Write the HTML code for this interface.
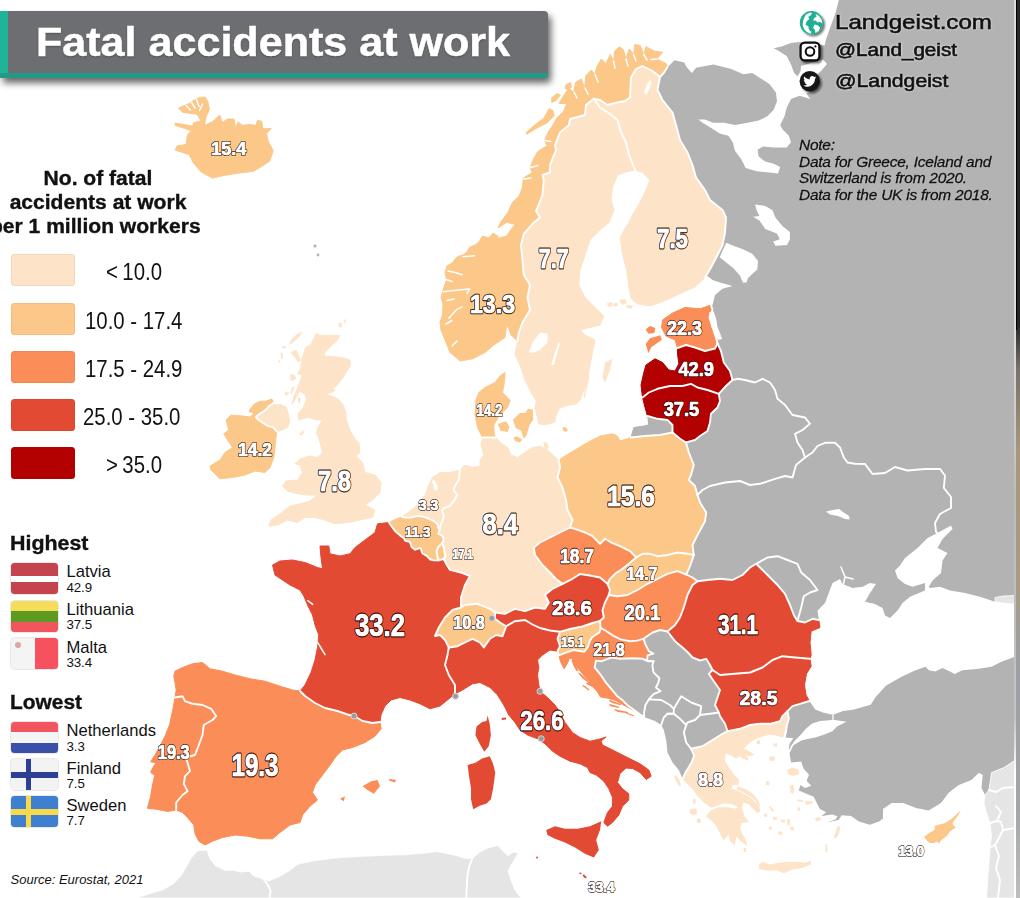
<!DOCTYPE html>
<html><head><meta charset="utf-8"><title>Fatal accidents at work</title>
<style>
html,body{margin:0;padding:0;background:#fff;}
body{width:1020px;height:898px;position:relative;overflow:hidden;font-family:"Liberation Sans",sans-serif;color:#111;}
.map{position:absolute;left:0;top:0;}
.abs{position:absolute;white-space:nowrap;}
.title{position:absolute;left:0;top:10.5px;width:548px;height:67.5px;background:#6d6e71;border-radius:0 4px 4px 0;box-shadow:3px 5px 7px rgba(0,0,0,.6);overflow:hidden;}
.title:before{content:"";position:absolute;left:0;top:0;width:7.5px;height:100%;background:#1fb398;}
.title:after{content:"";position:absolute;left:0;bottom:0;width:100%;height:5.5px;background:#239a86;}
.title span{position:absolute;left:36px;top:7.2px;text-shadow:0 1px 2px rgba(0,0,0,.35);-webkit-text-stroke:0.5px #fff;transform:scaleX(1.077);font-weight:bold;font-size:40px;line-height:48px;color:#fff;white-space:nowrap;transform-origin:left center;}
.sw{position:absolute;left:11.2px;width:64px;height:32px;border-radius:3.5px;box-shadow:inset 0 0 0 1px rgba(120,40,0,.07);}
.lt{position:absolute;font-size:23px;line-height:24px;white-space:nowrap;transform:scaleX(.886);transform-origin:left center;}
.flag{position:absolute;left:10.5px;width:47.5px;height:31px;margin-top:0.8px;border-radius:3.5px;overflow:hidden;box-shadow:0 0 0 0.5px rgba(0,0,0,.18);}
.flag i{position:absolute;display:block;}
.cn{position:absolute;left:66.5px;font-size:16.6px;line-height:18px;white-space:nowrap;}
.cv{position:absolute;left:66.5px;font-size:13.3px;line-height:14px;white-space:nowrap;letter-spacing:-0.1px;}
.strip{position:absolute;left:1015.6px;top:0;width:4.4px;height:898px;background:linear-gradient(#26282a 0,#232526 36%,#7a7067 41%,#a8977e 50%,#ab9a84 65%,#9aa0a6 75%,#a2a6a8 90%,#bdbdbd 100%);}
.stripl{position:absolute;left:1013.6px;top:0;width:2px;height:898px;background:linear-gradient(#dcdcdc 0,#dcdcdc 38%,#bcbcbc 55%,#c4c4c4 80%,#fff 86%,#fff 100%);}.stripk{position:absolute;left:1015.6px;top:0;width:1.6px;height:330px;background:#000;}
</style></head><body>
<svg class="map" width="1020" height="898" viewBox="0 0 1020 898">
<g fill="#b3b3b3" stroke="none">
<path d="M667.5 67 L668 66.7 L674.5 60.2 L684.2 62.4 L686.4 66.7 L691.8 73.1 L696.1 67.7 L713.3 64.5 L730.6 68.8 L743.5 74.2 L752.2 73.1 L760.8 78.5 L769.4 83.9 L775.9 92.6 L777 101.2 L773.7 109.8 L767.3 116.3 L758.6 120.6 L747.8 122.8 L734.9 124.9 L724.1 122.8 L713.3 122.8 L704.7 119.5 L698.2 119.5 L702.6 122.8 L711.2 128.1 L719.8 133.5 L728.4 135.7 L732.8 142.2 L734.9 150.8 L741.4 159.4 L745.7 168 L756.5 171.3 L769.4 172.4 L778 173.4 L780.2 167 L773.7 163.7 L765.1 161.6 L758.6 156.2 L757.6 149.7 L763 146.5 L773.7 147.6 L786.7 147.6 L791 142.2 L788.8 135.7 L782.4 129.2 L780.2 124.9 L784.5 116.3 L786.7 107.7 L791 99 L799.6 95.8 L810.4 99 L806.1 93.6 L809 92.5 L818 73.7 L821.5 70.6 L827 64 L823 59.6 L801 66 L800.7 71 L797.5 76.4 L794.2 73.1 L791 64.5 L786.7 55.9 L778 50.5 L773.7 48.3 L782.4 46.2 L791 42.9 L799.6 41.9 L824.7 45.5 L825.5 41 L830 28 L835.7 12.5 L838.8 0 L1015.5 0 L1015.5 604 L995 601.8 L980 596.8 L965 593 L950 590.5 L940 586.8 L930 588 L928.8 586.8 L932.5 580.5 L941 573 L942.5 560.5 L947.5 553 L937.5 548 L942.5 539 L952.5 529 L951 525.5 L937.5 533 L927.5 538 L917.5 548 L905 558 L900 565.5 L895 570.5 L897.5 578 L905 584 L912.5 586.8 L925 583 L925 590.5 L910 596.8 L902.5 603 L897.5 610.5 L890 618 L885 615.5 L882.5 608 L875 604 L865 601.8 L870 593 L876 584 L870 583 L862.5 586.8 L852.5 588 L842.5 584 L840 579 L832.5 583 L828.8 593 L825 603 L817.5 610.5 L818.8 620 L812.5 618.8 L805 622.5 L797.5 621 L793.8 615 L790 605 L785 593.8 L777.5 585 L770 577.5 L762.5 570 L756.2 563.8 L750 567.5 L742.5 575 L732.5 580 L720 578.8 L707.5 580 L697.5 581.2 L692.5 577.5 L686.2 574.5 L690 566.2 L693.8 555 L692.5 545 L697.5 535 L705 521.2 L706.2 512.5 L700 502.5 L697.5 495 L695 486 L688.8 480 L691 475 L693.8 465 L688.8 452.5 L686 442.5 L695 440 L700 436 L707.5 431 L710 422.5 L711 413.8 L717.5 407.5 L720 401 L718.8 393.8 L726 386 L732.5 380 L730 371 L723.8 362.5 L721 351 L717.5 343.5 L716 337.5 L712.5 327.5 L710 317.5 L712.5 310 L711 305 L712.5 305 L715 295 L722.5 288.8 L732.5 286 L720 282.5 L712.5 280 L707.5 276 L705 277.5 L711 267.5 L717.5 255 L722.5 245 L725 232.5 L726 217.5 L722.5 210 L710 200 L705 190 L696 177.5 L692.5 165 L687.5 152.5 L680 140 L676 125 L672.5 112.5 L662.5 100 L657.5 90 L660 77 L664 72.5 L667.5 67Z"/>
<path d="M643.5 638.8 L652.5 632.5 L660 630 L667.5 631.5 L675 641.2 L682.5 647.5 L687.5 652 L692.5 657.5 L700 660.5 L706.2 658.8 L710 665 L712.5 670 L708.8 673.8 L713.8 681.2 L720 690 L717.5 697.5 L715 705 L718.8 712.5 L720 716.2 L725 723.8 L727.5 731.2 L722.5 733.8 L712.5 740 L702.5 746.2 L691.2 748.8 L694.1 755.7 L691.4 762.8 L686 771.7 L682.5 778.8 L678.8 770 L672.5 762.5 L667.5 752.5 L666.2 740 L663.8 730 L661.2 725 L655 721 L648 718.5 L644.1 717 L639.4 714.1 L632.4 708.8 L627.6 705.3 L622.9 700.6 L617 695.9 L611.2 688.8 L605.3 681.8 L600.6 674.7 L594.7 667.6 L595.9 660.6 L601.8 661.2 L611.2 657.6 L620.6 658.8 L632.4 658.2 L642.9 658.8 L647.6 661.2 L653.5 661.2 L647 660.6 L647.6 655.3 L653.5 653.5 L648.8 651.2 L645.3 644.1Z"/>
<path d="M809.5 701 L815.2 709.4 L822.9 712.5 L829.2 714 L833 714.8 L843 711 L853 709.8 L870.7 704.7 L875.7 697 L885.8 685.8 L901 677 L915 670.5 L925.4 666.7 L929 670.3 L935.2 671.6 L942.5 667.9 L949.9 671.6 L954.8 674 L962.2 670.3 L976.9 669.1 L991.6 666.7 L1001.4 661.8 L1015.5 656.5 L1015.5 760 L1004 767.6 L991.5 772.7 L989 790 L985 795 L981.5 787.8 L982.7 775 L979 772.7 L971.4 780 L958.8 785 L948.7 792.8 L941 803 L928.6 810.4 L916 808 L903.4 803 L891.6 802.9 L883 809.1 L883 818.5 L879.1 821.6 L869.8 824.7 L858.9 821.6 L851.1 816.1 L841.7 815.3 L838.6 820 L826.9 822.4 L835.5 819.5 L837.5 816.3 L832.4 814.6 L821.4 816.1 L826.1 812.2 L819.9 809.1 L816.8 802.9 L813.7 796.7 L805.9 793.5 L798.8 790.4 L800.4 785 L805.1 788.1 L811.3 785.7 L806.6 781 L809 774.8 L803.5 768.6 L801.2 761.6 L791 762.4 L789.5 753 L793.4 745.2 L788.7 749.9 L789.5 743.7 L793.4 738.2 L785.6 737.4 L787.1 731.2 L787.9 723.4 L785.6 715.6 L787.5 711.2 L792.5 706.2 L800 703.8Z"/>
<circle cx="315" cy="246" r="1.6"/><circle cx="318" cy="255" r="1.4"/>
</g>
<g fill="#e5e5e5" stroke="#fff" stroke-width="0.8">
<path d="M991.5 772.7 L1004 767.6 L1015.5 760 L1015.5 898 L986.5 898 L987.8 878 L989 863 L990 848 L991.5 835.6 L990 823 L986.5 813 L984 803 L985 795 L989 790Z"/>
<path d="M995 597.5 L1003 596 L1015.5 595.5 L1015.5 604.5 L995 601.8Z"/>
<path d="M136.5 898 L148.8 894.1 L163 889.7 L173.5 883.5 L180.6 876.5 L185.9 867.6 L191.2 857.9 L197.4 850.9 L207 850 L208 853.5 L210.6 859.7 L215.9 865.9 L224.7 870.3 L233.5 870.3 L240.6 872 L249.4 871.2 L252.9 875.6 L263.5 879.1 L268.8 880.9 L279.4 876.5 L290 870.3 L298 864 L314 860.8 L335 858 L355 856.7 L380 855.5 L406 854.7 L425 853 L436.7 851.6 L447 853.5 L457 855.7 L465 858.5 L472.4 858.3 L480 852 L487.8 848 L498 845.5 L503 851 L508 855.7 L513.5 852 L518.4 853 L513 862 L508 871 L511 880 L515 890 L521 898Z"/>
</g>
<g fill="none" stroke="#fff" stroke-width="1.9" stroke-linejoin="round" stroke-linecap="round">
<path d="M732.5 380 L737.5 378.8 L745 380 L755 382.5 L762.5 378.8 L770 382.5 L775 390 L777.5 398.8 L785 405 L792.5 415 L805 417.5 L810 423.8 L802.5 430 L795 433.8 L797.5 442.5 L802.5 450 L805 457.5"/>
<path d="M697.5 495 L702.5 490 L710 486 L725 482.5 L740 481 L750 485 L760 483.8 L775 478.8 L785 476 L792.5 477.5 L796 465 L805 457.5"/>
<path d="M805 457.5 L812.5 452.5 L817.5 446 L825 442.8 L835 442.8 L840 447.5 L843.8 457.5 L847.5 462.5 L855 463.8 L865 464 L872.5 474 L885 473 L895 467 L907.5 470.5 L925 469 L940 469 L945 475.5 L943.8 488 L951 497 L951 508 L940 514 L935 523 L936 532 L937.5 533"/>
<path d="M756.2 563.8 L767.5 557.5 L777.5 556.2 L787.5 560 L797.5 563.8 L801.2 572.5 L810 580 L817.5 590 L810 592.5 L803.8 596.2 L801.2 607.5 L797.5 621"/>
<path d="M653.5 661.2 L652.4 665.3 L653.5 672.4 L659.4 678.2 L658.2 683 L655.9 687.6 L660.6 691.2 L653.5 694.1 L648.8 699.4"/>
<path d="M648.8 699.4 L645.3 705.3 L644.1 712.4 L644.1 717"/>
<path d="M648.8 699.4 L661.2 700 L670 705 L673.8 708.8 L673.8 713.8 L667.5 713.8"/>
<path d="M667.5 713.8 L663.8 717.5 L661.2 725"/>
<path d="M667.5 713.8 L673.8 713.8 L680 718.8 L686.2 725"/>
<path d="M673.8 708.8 L681.2 696.2 L691.2 702.5 L701.2 706.2 L700 715"/>
<path d="M700 715 L695 720 L687.5 722.5 L686.2 725"/>
<path d="M700 715 L710 713.8 L718.8 712.5"/>
<path d="M686.2 725 L683.8 732.5 L686.2 742.5 L691.2 748.8"/>
<path d="M989 790 L996 792 L1003 788 L1015.5 787"/>
<path d="M990 823 L997 821 L1001 812 L996 806"/>
<path d="M989 848 L995 845 L999 838 L1003 830 L1001 822 L997 821"/>
<path d="M995 845 L999 856 L996 868 L1000 880 L998 898"/>
<path d="M1003 830 L1015.5 828"/>
<path d="M263.5 879.1 L267 883.5 L270.6 890.6 L269.7 898"/>
<path d="M472.4 858.3 L469 867 L467.3 876 L466.3 898"/>
</g>
<g stroke-width="1" stroke-linejoin="round">
<path fill="#b3b3b3" stroke="#b3b3b3" d="M647.5 416 L657.5 418.8 L667.5 420 L672.5 425 L672.5 432.5 L660 435 L645 436 L631 437.5 L633.8 427.5 L643.8 426Z"/>
<path fill="#fbc88a" stroke="#fbc88a" d="M667.5 67 L666 63.4 L657 59 L662.6 52.3 L654.8 51.2 L646 46.7 L643.7 54.5 L640.3 45.6 L634.8 44.5 L633.6 54.5 L629.2 48.9 L625.9 59 L623.6 50 L619.2 46.7 L614.7 51.2 L613.6 61.2 L610.3 54.5 L605.8 63.4 L601.4 59 L596.9 66.7 L594.7 74.5 L591.3 70.1 L585.8 75.7 L584.6 87.9 L581.3 79 L575.7 82.3 L573.5 92.4 L569 87.9 L563.5 95.7 L559 103.5 L566.8 103.5 L563.5 111.3 L556.8 118 L552.4 125.8 L547.9 132.4 L544.6 140.2 L546.8 145.8 L537.9 151.4 L533.4 159.2 L530.1 168 L532.3 172.5 L523.4 178 L522.3 188 L519 196 L512.3 202.6 L507.8 212.6 L501 221.5 L498 228 L507 222 L513.3 224.6 L505.7 235 L499 236.9 L493 233 L489 238 L482.5 236 L479 242 L475 245 L470 247 L466 253 L462.5 255 L457 257 L452 263 L447 266 L445 272.5 L446.5 280 L443.8 287.5 L441 297.5 L443 304 L442.5 315 L440 322 L441 330 L446 342.5 L450 352.5 L460 361 L472.5 358.8 L485 352.5 L493.8 345 L505 337.5 L506.6 325 L509 329 L511 335 L517.5 341 L518.8 332.5 L522.5 322.5 L530 310 L527.5 297.5 L530 285 L523.8 275 L522.5 260 L521 245 L523.8 233.8 L532.5 223.8 L540 217.5 L536 211 L542.5 195 L543.8 180 L542.5 175 L550 172.5 L550 165 L556 150 L555 145 L560 132.5 L569 125 L570 119 L585 115 L586 105 L593.8 98.8 L600 100 L607.5 105 L611 104 L617.5 102.5 L625 101 L630 97.5 L631 77.5 L636 69 L642.5 66 L652.5 71 L660 77 L664 72.5Z"/>
<path fill="#fde4c8" stroke="#fde4c8" d="M593.8 98.8 L586 105 L585 115 L570 119 L569 125 L560 132.5 L555 145 L556 150 L550 165 L550 172.5 L542.5 175 L543.8 180 L542.5 195 L536 211 L540 217.5 L532.5 223.8 L523.8 233.8 L521 245 L522.5 260 L523.8 275 L530 285 L527.5 297.5 L530 310 L522.5 322.5 L518.8 332.5 L517.5 341 L515 355 L520 365 L525 380 L532.5 395 L536.3 400.6 L535 407.5 L537.6 418.4 L539 424 L546 424.8 L554.8 421.9 L556 415.7 L559.6 408 L567.8 405.4 L576 404 L580 400 L583.8 390 L587.5 380 L590 365 L592.5 352.5 L595 340 L585 335 L580 330 L590 327.5 L600 325 L603.8 316 L595 307.5 L585 297.5 L578.8 285 L580 270 L585 255 L590 240 L600 230 L609 222.5 L614 210 L611 200 L612.5 187.5 L617.5 175 L626 172 L635 170 L634 167.5 L629 155 L626 142.5 L621 132.5 L617.5 120 L610 114 L600 107.5Z"/>
<path fill="#fde4c8" stroke="#fde4c8" d="M593.8 98.8 L600 100 L607.5 105 L611 104 L617.5 102.5 L625 101 L630 97.5 L631 77.5 L636 69 L642.5 66 L652.5 71 L660 77 L657.5 90 L662.5 100 L672.5 112.5 L676 125 L680 140 L687.5 152.5 L692.5 165 L696 177.5 L705 190 L710 200 L722.5 210 L726 217.5 L725 232.5 L722.5 245 L717.5 255 L711 267.5 L705 277.5 L695 287 L682.5 292.5 L670 298.5 L657.5 303.5 L651.4 305.5 L647.5 305.5 L638 304 L631.3 299 L629.1 289.3 L626.9 271.5 L622.4 253.6 L620.2 238 L624.6 229.1 L627.5 225 L632.5 215 L640 202.5 L646 190 L650 180 L642.5 172.5 L635 170 L634 167.5 L629 155 L626 142.5 L621 132.5 L617.5 120 L610 114 L600 107.5Z"/>
<path fill="#fb8d58" stroke="#fb8d58" d="M711 305 L700 308.8 L685 307.5 L672.5 313 L662.5 320 L661.5 327.5 L666 336 L675 340 L677.5 348 L686 345 L695 347.5 L705 351 L715 348.5 L717.5 343.5 L716 337.5 L712.5 327.5 L710 317.5 L712.5 310Z"/>
<path fill="#b30000" stroke="#b30000" d="M677.5 348 L686 345 L695 347.5 L705 351 L715 348.5 L717.5 343.5 L721 351 L723.8 362.5 L730 371 L732.5 380 L726 386 L718.8 393.8 L707.5 390 L697.5 387.5 L691 383.8 L682.5 386 L670 386 L657.5 388.8 L648.8 392.5 L642.5 397.5 L641 385 L643.8 372.5 L646 365 L655 358.8 L662.5 362.5 L668.8 370 L675 371 L678.8 363.8 L677.5 353.8Z"/>
<path fill="#b30000" stroke="#b30000" d="M642.5 397.5 L648.8 392.5 L657.5 388.8 L670 386 L682.5 386 L691 383.8 L697.5 387.5 L707.5 390 L718.8 393.8 L720 401 L717.5 407.5 L711 413.8 L710 422.5 L707.5 431 L700 436 L695 440 L686 442.5 L680 438.8 L672.5 432.5 L672.5 425 L667.5 420 L657.5 418.8 L647.5 416 L645 407.5Z"/>
<path fill="#fbc88a" stroke="#fbc88a" d="M558.8 460 L565 456 L575 450 L587.5 442.5 L600 436 L612.5 433.8 L617.5 436 L620 441 L631 437.5 L645 436 L660 435 L672.5 432.5 L680 438.8 L686 442.5 L688.8 452.5 L693.8 465 L691 475 L688.8 480 L695 486 L697.5 495 L700 502.5 L706.2 512.5 L705 521.2 L697.5 535 L692.5 545 L693.8 555 L687.5 553.8 L677.5 552.5 L667.5 555 L657.5 556.2 L650 553.8 L642.5 553.8 L636.2 557.5 L630 551.2 L620 546.2 L611.2 542.5 L605 538.8 L600 543.8 L592.5 536.2 L585 532.5 L575 528.8 L570 527.5 L572.5 520 L567.5 510 L566 500 L562.5 487.5 L557.5 477.5 L560 467.5Z"/>
<path fill="#fde4c8" stroke="#fde4c8" d="M558.8 460 L560 467.5 L557.5 477.5 L562.5 487.5 L566 500 L567.5 510 L572.5 520 L570 527.5 L560 532.5 L550 537.5 L540 542.5 L533.8 547.5 L535 555 L542.5 565 L550 572.5 L556 579 L562.5 583.8 L552.5 588.8 L545 595 L548.8 602.5 L545 608.8 L535 607.5 L525 611.2 L515 608.8 L505 613.8 L495 612.5 L490 608.8 L477.5 603.8 L465 605 L461 607.5 L461 597.5 L465 585 L470 576 L462.5 573 L455 571 L449.9 569.8 L446.3 564 L443.7 559 L445.4 556 L444.5 551.5 L443.7 547 L441.9 543.5 L443.7 539.9 L442.8 536.3 L438.3 533.7 L439.5 530 L440.1 528.3 L441 523.9 L442.8 520.3 L443.7 515.8 L441.9 510.5 L444.5 507.8 L449.9 506 L451.7 503.4 L455.2 498.9 L457 494.5 L453.5 490 L455 486 L458.8 480 L460 470 L465 465 L472.5 467.5 L480 466 L480 460 L483.8 455 L481 445 L482.5 437.5 L496 437.5 L500 442.5 L507.5 447.5 L511 455 L517.5 457.5 L525 452.5 L532.5 447.5 L540 446 L547.5 450 L553.8 456Z"/>
<path fill="#fbc88a" stroke="#fbc88a" d="M482.5 437.5 L477.5 427.5 L475 415 L476 400 L478.8 392.5 L485 387.5 L495 382.5 L500 376 L505 372.5 L504.7 380 L502.6 392.4 L510.2 400.6 L507.5 407.5 L499.2 415.7 L493.7 425.3 L494.4 434.9 L496 437.5Z"/>
<path fill="#fde4c8" stroke="#fde4c8" d="M460 470 L458.8 480 L455 486 L453.5 490 L457 494.5 L455.2 498.9 L451.7 503.4 L449.9 506 L444.5 507.8 L441.9 510.5 L443.7 515.8 L442.8 520.3 L441 523.9 L440.1 528.3 L439.5 530 L438.3 527.4 L437.4 523.9 L433.9 521.2 L428.5 518.5 L423.2 516.7 L417.8 515.8 L410.7 517.6 L405.3 517.6 L401.8 516.7 L408 512.5 L417.5 505 L425 495 L428.8 485 L432.5 477.5 L440 472.5 L450 472.5Z"/>
<path fill="#fbc88a" stroke="#fbc88a" d="M401.8 516.7 L405.3 517.6 L410.7 517.6 L417.8 515.8 L423.2 516.7 L428.5 518.5 L433.9 521.2 L437.4 523.9 L438.3 527.4 L439.5 530 L438.3 533.7 L442.8 536.3 L443.7 539.9 L441.9 543.5 L438.3 547 L436.5 551.5 L437.4 556 L438.3 560.4 L433.9 560.4 L430.3 559.5 L426.7 555.9 L422.3 553.3 L420.5 547.9 L415.1 549.7 L411.6 547 L409.8 541.7 L405.3 540.8 L403.6 538.1 L400 535.4 L395 531 L388.8 522.5 L395 519.5Z"/>
<path fill="#fbc88a" stroke="#fbc88a" d="M441.9 543.5 L443.7 547 L444.5 551.5 L445.4 556 L443.7 559 L438.3 560.4 L437.4 556 L436.5 551.5 L438.3 547Z"/>
<path fill="#e24a33" stroke="#e24a33" d="M388.8 522.5 L395 531 L400 535.4 L403.6 538.1 L405.3 540.8 L409.8 541.7 L411.6 547 L415.1 549.7 L420.5 547.9 L422.3 553.3 L426.7 555.9 L430.3 559.5 L433.9 560.4 L438.3 560.4 L443.7 559 L446.3 564 L449.9 569.8 L455 571 L462.5 573 L470 576 L465 585 L461 597.5 L461 607.5 L452.5 610 L445 617.5 L438.8 627.5 L435 636 L440 635 L445 640 L448.8 647.5 L447.5 655 L445 665 L448.8 675 L455 685 L455 693.8 L447.5 700 L440 706 L430 708.8 L420 703.8 L410 700 L400 697.5 L391 700 L385 706 L381 715 L380 722 L372.5 723 L362.5 721 L355 716.5 L347.5 714.5 L337.5 711 L325 708 L315 703 L305 696 L300 691 L305 685 L311 672.5 L315 660 L317.5 647.5 L318.8 635 L315 625 L312.5 615 L307.5 605 L303.8 596 L300 590 L290 585 L282.5 580 L275 575 L272.5 565 L280 561 L292.5 560 L305 562.5 L317.5 567.5 L322.5 568.8 L321 557.5 L320 546 L328.8 546 L330 553.8 L340 556 L350 553.8 L355 547.5 L365 540 L375 532.5 L377.5 523.8Z"/>
<path fill="#fbc88a" stroke="#fbc88a" d="M461 607.5 L465 605 L477.5 603.8 L490 608.8 L495 612.5 L495 618.8 L500 622.5 L506.2 626.2 L502.5 636.2 L496.2 635 L490 638.8 L483.8 647.5 L480 642.5 L472.5 638.8 L465 642.5 L457.5 646.2 L448.8 647.5 L445 640 L440 635 L435 636 L438.8 627.5 L445 617.5 L452.5 610Z"/>
<path fill="#e24a33" stroke="#e24a33" d="M495 612.5 L505 613.8 L515 608.8 L525 611.2 L535 607.5 L545 608.8 L548.8 602.5 L545 595 L552.5 588.8 L562.5 583.8 L572.5 578.8 L580 574 L590 575.5 L600 577.5 L607.5 583.8 L610 590 L608.8 595 L605 602.5 L602.5 610 L603.8 617.5 L600 621 L592.5 623 L582.5 626.5 L570 629 L560 631.8 L550 630.5 L540 628 L532.5 624.5 L525 620 L515 621.2 L506.2 626.2 L500 622.5 L495 618.8Z"/>
<path fill="#fb8d58" stroke="#fb8d58" d="M570 527.5 L560 532.5 L550 537.5 L540 542.5 L533.8 547.5 L535 555 L542.5 565 L550 572.5 L556 579 L562.5 583.8 L572.5 578.8 L580 574 L590 575.5 L600 577.5 L607.5 583.8 L610 578.8 L615 573.8 L622.5 568.8 L628.8 563.8 L636.2 557.5 L630 551.2 L620 546.2 L611.2 542.5 L605 538.8 L600 543.8 L592.5 536.2 L585 532.5 L575 528.8Z"/>
<path fill="#fbc88a" stroke="#fbc88a" d="M607.5 583.8 L610 578.8 L615 573.8 L622.5 568.8 L628.8 563.8 L636.2 557.5 L642.5 553.8 L650 553.8 L657.5 556.2 L667.5 555 L677.5 552.5 L687.5 553.8 L693.8 555 L690 566.2 L686.2 574.5 L677.5 571.2 L667.5 573.8 L657.5 578.8 L647.5 583.8 L637.5 590 L627.5 595 L617.5 596.2 L608.8 595 L610 590Z"/>
<path fill="#fb8d58" stroke="#fb8d58" d="M608.8 595 L617.5 596.2 L627.5 595 L637.5 590 L647.5 583.8 L657.5 578.8 L667.5 573.8 L677.5 571.2 L686.2 574.5 L692.5 577.5 L697.5 581.2 L692.5 585 L687.5 595 L683.8 607.5 L680 617.5 L675 625 L667.5 631.5 L660 630 L652.5 632.5 L643.5 638.8 L637 640.6 L630 641.2 L620.6 639.4 L613.5 635.9 L606.5 631.2 L600.6 628 L600 621 L603.8 617.5 L602.5 610 L605 602.5Z"/>
<path fill="#fbc88a" stroke="#fbc88a" d="M560 631.8 L570 629 L582.5 626.5 L592.5 623 L600 621 L600.6 628 L599.4 632.4 L592.4 637 L590 640.6 L587.6 647.6 L584.1 651.8 L573.5 650 L565.3 652.9 L558.8 655.3 L557.5 651.2 L560 646.2 L557.5 638.8Z"/>
<path fill="#fb8d58" stroke="#fb8d58" d="M558.8 655.3 L565.3 652.9 L573.5 650 L584.1 651.8 L587.6 647.6 L590 640.6 L592.4 637 L599.4 632.4 L600.6 628 L606.5 631.2 L613.5 635.9 L620.6 639.4 L630 641.2 L637 640.6 L643.5 638.8 L645.3 644.1 L648.8 651.2 L653.5 653.5 L647.6 655.3 L647 660.6 L653.5 661.2 L647.6 661.2 L642.9 658.8 L632.4 658.2 L620.6 658.8 L611.2 657.6 L601.8 661.2 L595.9 660.6 L594.7 667.6 L600.6 674.7 L605.3 681.8 L611.2 688.8 L617 695.9 L622.9 700.6 L627.6 705.3 L632.4 708.8 L639.4 714.1 L644.1 717 L637 712.4 L630 708.2 L622.9 704.7 L615.9 700.6 L607.6 698.2 L600.6 697 L597 691.2 L592.4 686.5 L586.5 683.5 L590 681.8 L585.3 677 L579.4 670 L573.5 664.1 L572.4 658.8 L569.4 658.2 L567.6 662.9 L564.1 668.8 L560.6 661.8Z"/>
<path fill="#e24a33" stroke="#e24a33" d="M455 693.8 L455 685 L448.8 675 L445 665 L447.5 655 L448.8 647.5 L457.5 646.2 L465 642.5 L472.5 638.8 L480 642.5 L483.8 647.5 L490 638.8 L496.2 635 L502.5 636.2 L506.2 626.2 L515 621.2 L525 620 L532.5 624.5 L540 628 L550 630.5 L560 631.8 L557.5 638.8 L560 646.2 L557.5 651.2 L550 650 L542.5 655 L537.5 660 L538.8 667.5 L537.5 675 L538.8 685 L540 691.2 L547.5 697.5 L555 705 L560 712.5 L565 722.5 L572.5 732.5 L580 737.5 L590 741.2 L600 739 L606.2 737 L601 741 L602.5 745 L615 751.2 L627.5 757.5 L640 763.8 L648.8 770 L651.2 776.2 L646.2 779.5 L640 772.5 L632.5 768.5 L626 768 L620 773.5 L617.5 782.5 L622.5 788.8 L628.8 793.8 L628.8 800 L622.5 806.2 L618.8 815 L612.5 822.5 L607.5 826.2 L603.8 822.5 L607.5 812.5 L612.5 806.2 L612.5 797.5 L608.8 788.8 L603.8 781.2 L596.2 775 L590 772.5 L587.5 767.5 L580 763.8 L570 761.2 L560 756.2 L552.5 751.2 L545 743.8 L537.5 738.8 L527.5 735 L520 730 L515 722.5 L508.8 715 L503.8 705 L497.5 695 L490 687.5 L480 682.5 L472.5 683.8 L462.5 690Z"/>
<path fill="#e24a33" stroke="#e24a33" d="M697.5 581.2 L707.5 580 L720 578.8 L732.5 580 L742.5 575 L750 567.5 L756.2 563.8 L762.5 570 L770 577.5 L777.5 585 L785 593.8 L790 605 L793.8 615 L797.5 621 L805 622.5 L812.5 618.8 L818.8 620 L820 627.5 L811.2 631.2 L810 642.5 L811.2 655 L810 658.8 L795 657.5 L782.5 656.2 L772.5 660 L762.5 667.5 L750 672.5 L735 673.8 L720 675 L712.5 670 L710 665 L706.2 658.8 L700 660.5 L692.5 657.5 L687.5 652 L682.5 647.5 L675 641.2 L667.5 631.5 L675 625 L680 617.5 L683.8 607.5 L687.5 595 L692.5 585Z"/>
<path fill="#e24a33" stroke="#e24a33" d="M712.5 670 L720 675 L735 673.8 L750 672.5 L762.5 667.5 L772.5 660 L782.5 656.2 L795 657.5 L810 658.8 L811.2 666.2 L806.5 673.8 L804.5 685 L806 695 L809.5 701 L800 703.8 L792.5 706.2 L787.5 711.2 L782.5 716.2 L780 721.2 L770 723.8 L760 723.8 L750 725 L740 728.8 L727.5 731.2 L725 723.8 L720 716.2 L718.8 712.5 L715 705 L717.5 697.5 L720 690 L713.8 681.2 L708.8 673.8Z"/>
<path fill="#fde4c8" stroke="#fde4c8" d="M727.5 731.2 L740 728.8 L750 725 L760 723.8 L770 723.8 L780 721.2 L782.5 716.2 L787.5 711.2 L788.8 718.8 L786.2 727.5 L785 735 L782.3 736.9 L777 735.2 L769.8 734.3 L762.7 736 L757.3 737.8 L752 740.5 L746.6 745 L743.1 748.5 L748.4 751.2 L753.8 754.8 L748.4 755.7 L744.9 753.9 L748.4 760.1 L743.1 758.3 L739.5 755.7 L736 758.3 L730.6 754.8 L725.3 753 L724.4 761 L728.8 768.1 L734.2 775.3 L738.6 779.7 L737.7 785 L732.4 784.2 L731 789 L737 791 L743.5 794 L751 798.5 L757 804.5 L760 811 L757.3 812.7 L752 807.3 L748.4 803.8 L743.1 802 L741.3 807.3 L744 816.3 L748.4 821.6 L741.3 822.5 L739.5 828.7 L744.9 839.4 L746.6 844.8 L741.3 841.2 L736 835.9 L734.2 844.8 L730.6 841.2 L728.8 834.1 L723.5 839.4 L719.9 832.3 L716.3 825.2 L711 819.8 L706.5 816.3 L711 810.9 L718.1 807.8 L727 807.8 L736 809.1 L739 807.5 L732.4 803.8 L723.5 802.9 L716.3 805.6 L711 807.3 L703.9 802 L698.5 796.6 L693.2 789.5 L687.8 784.2 L682.5 778.8 L686 771.7 L691.4 762.8 L694.1 755.7 L691.2 748.8 L702.5 746.2 L712.5 740 L722.5 733.8Z"/>
<path fill="#fbc88a" stroke="#fbc88a" d="M178.5 108.1 L184.7 105.4 L189.5 103.3 L194.3 99.9 L200.5 97.2 L205.3 97.2 L208 102 L209.4 109.5 L206 117 L204.6 125.3 L212.2 121.9 L219.7 115 L222.4 122.5 L227.3 119.1 L234.1 119.1 L235.5 128 L238.2 121.9 L242.3 125.3 L249.2 124.6 L256 125.3 L257.4 120.5 L261.6 121.2 L262.9 128.7 L271.2 128.7 L266.4 133.5 L268.4 141.8 L273.2 150.7 L269.8 161 L261.6 166.5 L253.3 171.3 L236.9 173.3 L224.5 175.4 L212.2 178.1 L201.2 172 L192.9 162.3 L189.5 154.8 L175.1 150 L177.2 145.9 L186.1 144.5 L187.4 134.9 L191.6 130.8 L175.1 125.3 L175.1 123.2 L193 126 L193.6 122.5 L201.2 121.2 L197 114.3 L182.6 112.3Z"/>
<path fill="#fde4c8" stroke="#fde4c8" d="M316.6 333.2 L319.5 335.3 L339.8 335.3 L336.9 340.4 L331.1 346.2 L325.3 352 L323.8 356.3 L331.1 356.3 L342.7 357.8 L349.9 360 L350.6 365 L347 370.8 L342.7 378 L336.9 385.3 L332.5 388.9 L335.4 390.4 L331.1 392.5 L325.3 394 L331.1 396.1 L336.9 398.3 L342.7 404.1 L345.6 411.3 L346.3 420 L349.9 430.2 L355.7 440 L358.8 442.5 L360 452.5 L356 456 L362.5 462.5 L365 472.5 L375 475 L381 482.5 L380 492.5 L372.5 500 L365 505 L375 510 L372.5 517.5 L360 520 L347.5 522.5 L335 523.8 L325 520 L315 517.5 L305 517.5 L297.5 522.5 L287.5 520 L277.5 525 L268.8 526 L271 520 L280 513.8 L290 506 L300 503.8 L310 501 L317.5 495 L307.5 495 L297.5 493.8 L287.5 491 L282.5 486 L286 481 L297.5 480 L302.5 472.5 L300 465 L295 463.8 L300 458.8 L310 456 L317.5 457.5 L322.5 452.5 L320 442.5 L319.5 440 L316.6 433.1 L318 427.3 L322.4 420 L316.6 420 L307.9 417.1 L299.2 420 L297.8 414.2 L303.6 407 L306.5 399.8 L305 394 L299.2 391.1 L294.9 399.8 L292 404.1 L293.4 398.3 L296.3 391.1 L299.2 383.8 L302.1 375.2 L297.8 373.7 L300.7 367.9 L302.1 359.2 L303.6 353.4 L305.7 347.6 L310.8 344.7 L313.7 339Z"/>
<path fill="#fde4c8" stroke="#fde4c8" d="M273.9 402.7 L274.6 404.8 L281.1 404.8 L286.2 407 L288.4 414.2 L289.8 421.5 L287.6 427.3 L281.9 430.2 L276.8 431.6 L273.2 427.3 L267.4 425.8 L263 422.9 L258.7 420 L255.8 417.1 L260.1 413.5 L265.9 409.9 L268.8 406.3Z"/>
<path fill="#fbc88a" stroke="#fbc88a" d="M250 409.2 L254.3 404.1 L260.1 401.2 L265.9 401.2 L271.7 399 L273.9 402.7 L268.8 406.3 L265.9 409.9 L260.1 413.5 L255.8 417.1 L258.7 420 L263 422.9 L267.4 425.8 L273.2 427.3 L276.8 431.6 L276 437.5 L275 447.5 L273.8 457.5 L270 467.5 L265 472.5 L255 471 L245 475 L232.5 477.5 L220 478.8 L211 470 L210 466 L220 460 L225 452.5 L232.5 447.5 L227.5 440 L223.8 433.8 L228.8 430 L226 420 L231 415 L242.5 416 L250 417 L254 413.5 L249 411.5Z"/>
<path fill="#fb8d58" stroke="#fb8d58" d="M175 671.2 L182.5 667.5 L192.5 663.8 L202.5 662.5 L210 668.8 L222.5 671.2 L235 675 L250 678.8 L265 681.2 L280 686.2 L292.5 690 L300 691 L305 696 L315 703 L325 708 L337.5 711 L347.5 714.5 L355 716.5 L362.5 721 L372.5 723 L380 722 L381.2 728.8 L375 736.2 L365 742.5 L352.5 747.5 L342.5 750 L336.2 756.2 L330 765 L322.5 775 L315 785 L312.5 792.5 L317.5 800 L310 806.2 L302.5 815 L300 822.5 L290 825 L280 832.5 L272.5 838.8 L260 838.8 L247.5 836.2 L235 835 L222.5 837.5 L212.5 841.2 L205 845 L198.8 841.2 L195 833.8 L193.8 825 L187.5 817.5 L182.5 812.5 L176.2 810 L176.2 802.5 L182.5 795 L187.5 791.2 L183.8 783.8 L185 776.2 L190 771.2 L187.5 762.5 L186.2 757.5 L195 755 L198.8 745 L202.5 735 L203.8 725 L212.5 720 L216.2 716.2 L211.2 708.8 L202.5 705 L192.5 703.8 L185 701.2 L182.5 696.2 L175 697.5 L176.2 690 L175 682.5 L173.8 676.2Z"/>
<path fill="#fb8d58" stroke="#fb8d58" d="M175 697.5 L182.5 696.2 L185 701.2 L192.5 703.8 L202.5 705 L211.2 708.8 L216.2 716.2 L212.5 720 L203.8 725 L202.5 735 L198.8 745 L195 755 L186.2 757.5 L187.5 762.5 L190 771.2 L185 776.2 L183.8 783.8 L187.5 791.2 L182.5 795 L176.2 802.5 L176.2 810 L167.5 811.4 L156.9 809.3 L147.4 808.3 L150.6 796.6 L152.7 783.9 L154.8 775.4 L150.6 772.3 L152.7 768 L155.9 762.8 L150.6 761.7 L154.8 755.3 L160.1 745.8 L165.4 735.2 L169.6 724.7 L172.8 709.8Z"/>
</g>
<g fill="none" stroke="#fff" stroke-width="1.9" stroke-linejoin="round" stroke-linecap="round">
<path d="M593.8 98.8 L586 105 L585 115 L570 119 L569 125 L560 132.5 L555 145 L556 150 L550 165 L550 172.5 L542.5 175 L543.8 180 L542.5 195 L536 211 L540 217.5 L532.5 223.8 L523.8 233.8 L521 245 L522.5 260 L523.8 275 L530 285 L527.5 297.5 L530 310 L522.5 322.5 L518.8 332.5 L517.5 341"/>
<path d="M593.8 98.8 L600 100 L607.5 105 L611 104 L617.5 102.5 L625 101 L630 97.5 L631 77.5 L636 69 L642.5 66 L652.5 71 L660 77"/>
<path d="M660 77 L664 72.5 L667.5 67"/>
<path d="M593.8 98.8 L600 107.5 L610 114 L617.5 120 L621 132.5 L626 142.5 L629 155 L634 167.5 L635 170"/>
<path d="M660 77 L657.5 90 L662.5 100 L672.5 112.5 L676 125 L680 140 L687.5 152.5 L692.5 165 L696 177.5 L705 190 L710 200 L722.5 210 L726 217.5 L725 232.5 L722.5 245 L717.5 255 L711 267.5 L705 277.5"/>
<path d="M677.5 348 L686 345 L695 347.5 L705 351 L715 348.5 L717.5 343.5"/>
<path d="M717.5 343.5 L716 337.5 L712.5 327.5 L710 317.5 L712.5 310 L711 305"/>
<path d="M717.5 343.5 L721 351 L723.8 362.5 L730 371 L732.5 380"/>
<path d="M732.5 380 L726 386 L718.8 393.8"/>
<path d="M718.8 393.8 L707.5 390 L697.5 387.5 L691 383.8 L682.5 386 L670 386 L657.5 388.8 L648.8 392.5 L642.5 397.5"/>
<path d="M718.8 393.8 L720 401 L717.5 407.5 L711 413.8 L710 422.5 L707.5 431 L700 436 L695 440 L686 442.5"/>
<path d="M686 442.5 L680 438.8 L672.5 432.5"/>
<path d="M672.5 432.5 L672.5 425 L667.5 420 L657.5 418.8 L647.5 416"/>
<path d="M672.5 432.5 L660 435 L645 436 L631 437.5"/>
<path d="M686 442.5 L688.8 452.5 L693.8 465 L691 475 L688.8 480 L695 486 L697.5 495"/>
<path d="M697.5 495 L700 502.5 L706.2 512.5 L705 521.2 L697.5 535 L692.5 545 L693.8 555"/>
<path d="M693.8 555 L687.5 553.8 L677.5 552.5 L667.5 555 L657.5 556.2 L650 553.8 L642.5 553.8 L636.2 557.5"/>
<path d="M636.2 557.5 L630 551.2 L620 546.2 L611.2 542.5 L605 538.8 L600 543.8 L592.5 536.2 L585 532.5 L575 528.8 L570 527.5"/>
<path d="M570 527.5 L572.5 520 L567.5 510 L566 500 L562.5 487.5 L557.5 477.5 L560 467.5 L558.8 460"/>
<path d="M570 527.5 L560 532.5 L550 537.5 L540 542.5 L533.8 547.5 L535 555 L542.5 565 L550 572.5 L556 579 L562.5 583.8"/>
<path d="M562.5 583.8 L552.5 588.8 L545 595 L548.8 602.5 L545 608.8 L535 607.5 L525 611.2 L515 608.8 L505 613.8 L495 612.5"/>
<path d="M495 612.5 L490 608.8 L477.5 603.8 L465 605 L461 607.5"/>
<path d="M461 607.5 L461 597.5 L465 585 L470 576 L462.5 573 L455 571 L449.9 569.8 L446.3 564 L443.7 559"/>
<path d="M443.7 559 L445.4 556 L444.5 551.5 L443.7 547 L441.9 543.5"/>
<path d="M441.9 543.5 L443.7 539.9 L442.8 536.3 L438.3 533.7 L439.5 530"/>
<path d="M439.5 530 L440.1 528.3 L441 523.9 L442.8 520.3 L443.7 515.8 L441.9 510.5 L444.5 507.8 L449.9 506 L451.7 503.4 L455.2 498.9 L457 494.5 L453.5 490 L455 486 L458.8 480 L460 470"/>
<path d="M482.5 437.5 L496 437.5"/>
<path d="M439.5 530 L438.3 527.4 L437.4 523.9 L433.9 521.2 L428.5 518.5 L423.2 516.7 L417.8 515.8 L410.7 517.6 L405.3 517.6 L401.8 516.7"/>
<path d="M441.9 543.5 L438.3 547 L436.5 551.5 L437.4 556 L438.3 560.4"/>
<path d="M438.3 560.4 L433.9 560.4 L430.3 559.5 L426.7 555.9 L422.3 553.3 L420.5 547.9 L415.1 549.7 L411.6 547 L409.8 541.7 L405.3 540.8 L403.6 538.1 L400 535.4 L395 531 L388.8 522.5"/>
<path d="M438.3 560.4 L443.7 559"/>
<path d="M461 607.5 L452.5 610 L445 617.5 L438.8 627.5 L435 636 L440 635 L445 640 L448.8 647.5"/>
<path d="M448.8 647.5 L447.5 655 L445 665 L448.8 675 L455 685 L455 693.8"/>
<path d="M380 722 L372.5 723 L362.5 721 L355 716.5 L347.5 714.5 L337.5 711 L325 708 L315 703 L305 696 L300 691"/>
<path d="M495 612.5 L495 618.8 L500 622.5 L506.2 626.2"/>
<path d="M506.2 626.2 L502.5 636.2 L496.2 635 L490 638.8 L483.8 647.5 L480 642.5 L472.5 638.8 L465 642.5 L457.5 646.2 L448.8 647.5"/>
<path d="M562.5 583.8 L572.5 578.8 L580 574 L590 575.5 L600 577.5 L607.5 583.8"/>
<path d="M607.5 583.8 L610 590 L608.8 595"/>
<path d="M608.8 595 L605 602.5 L602.5 610 L603.8 617.5 L600 621"/>
<path d="M600 621 L592.5 623 L582.5 626.5 L570 629 L560 631.8"/>
<path d="M560 631.8 L550 630.5 L540 628 L532.5 624.5 L525 620 L515 621.2 L506.2 626.2"/>
<path d="M607.5 583.8 L610 578.8 L615 573.8 L622.5 568.8 L628.8 563.8 L636.2 557.5"/>
<path d="M693.8 555 L690 566.2 L686.2 574.5"/>
<path d="M686.2 574.5 L677.5 571.2 L667.5 573.8 L657.5 578.8 L647.5 583.8 L637.5 590 L627.5 595 L617.5 596.2 L608.8 595"/>
<path d="M686.2 574.5 L692.5 577.5 L697.5 581.2"/>
<path d="M697.5 581.2 L692.5 585 L687.5 595 L683.8 607.5 L680 617.5 L675 625 L667.5 631.5"/>
<path d="M667.5 631.5 L660 630 L652.5 632.5 L643.5 638.8"/>
<path d="M643.5 638.8 L637 640.6 L630 641.2 L620.6 639.4 L613.5 635.9 L606.5 631.2 L600.6 628"/>
<path d="M600.6 628 L600 621"/>
<path d="M600.6 628 L599.4 632.4 L592.4 637 L590 640.6 L587.6 647.6 L584.1 651.8 L573.5 650 L565.3 652.9 L558.8 655.3"/>
<path d="M558.8 655.3 L557.5 651.2 L560 646.2 L557.5 638.8 L560 631.8"/>
<path d="M643.5 638.8 L645.3 644.1 L648.8 651.2 L653.5 653.5 L647.6 655.3 L647 660.6 L653.5 661.2"/>
<path d="M653.5 661.2 L647.6 661.2 L642.9 658.8 L632.4 658.2 L620.6 658.8 L611.2 657.6 L601.8 661.2 L595.9 660.6 L594.7 667.6 L600.6 674.7 L605.3 681.8 L611.2 688.8 L617 695.9 L622.9 700.6 L627.6 705.3 L632.4 708.8 L639.4 714.1 L644.1 717"/>
<path d="M697.5 581.2 L707.5 580 L720 578.8 L732.5 580 L742.5 575 L750 567.5 L756.2 563.8"/>
<path d="M756.2 563.8 L762.5 570 L770 577.5 L777.5 585 L785 593.8 L790 605 L793.8 615 L797.5 621"/>
<path d="M797.5 621 L805 622.5 L812.5 618.8 L818.8 620"/>
<path d="M810 658.8 L795 657.5 L782.5 656.2 L772.5 660 L762.5 667.5 L750 672.5 L735 673.8 L720 675 L712.5 670"/>
<path d="M712.5 670 L710 665 L706.2 658.8 L700 660.5 L692.5 657.5 L687.5 652 L682.5 647.5 L675 641.2 L667.5 631.5"/>
<path d="M809.5 701 L800 703.8 L792.5 706.2 L787.5 711.2"/>
<path d="M787.5 711.2 L782.5 716.2 L780 721.2 L770 723.8 L760 723.8 L750 725 L740 728.8 L727.5 731.2"/>
<path d="M727.5 731.2 L725 723.8 L720 716.2 L718.8 712.5"/>
<path d="M718.8 712.5 L715 705 L717.5 697.5 L720 690 L713.8 681.2 L708.8 673.8 L712.5 670"/>
<path d="M727.5 731.2 L722.5 733.8 L712.5 740 L702.5 746.2 L691.2 748.8"/>
<path d="M691.2 748.8 L694.1 755.7 L691.4 762.8 L686 771.7 L682.5 778.8"/>
<path d="M787.5 711.2 L788.8 718.8 L786.2 727.5 L785 735"/>
<path d="M273.9 402.7 L268.8 406.3 L265.9 409.9 L260.1 413.5 L255.8 417.1 L258.7 420 L263 422.9 L267.4 425.8 L273.2 427.3 L276.8 431.6"/>
<path d="M176.2 810 L176.2 802.5 L182.5 795 L187.5 791.2 L183.8 783.8 L185 776.2 L190 771.2 L187.5 762.5 L186.2 757.5 L195 755 L198.8 745 L202.5 735 L203.8 725 L212.5 720 L216.2 716.2 L211.2 708.8 L202.5 705 L192.5 703.8 L185 701.2 L182.5 696.2 L175 697.5"/>
</g>
<g stroke="none">
<path fill="#fbc88a" d="M553.5 110.5 L554.6 115.7 L546.8 123.5 L537.9 128 L526.7 134.7 L525.6 132.4 L534.5 124.7 L543.4 118 L549 108Z"/>
<path fill="#fbc88a" d="M566 84 L571 82 L572 87 L567.5 90.5 L564.5 88Z"/>
<path fill="#fbc88a" d="M551 98 L557 93 L561 95 L556 101 L551.5 103Z"/>
<path fill="#fb8d58" d="M571.5 660 L573.5 661 L577 668 L578.5 671 L576.5 671 L573.5 666Z"/>
<path fill="#fb8d58" d="M578 672.5 L580 673 L589 681.5 L588 682.5 L582 678Z"/>
<path fill="#fb8d58" d="M582 685.5 L583.5 685 L589.5 689.5 L588.5 690.5Z"/>
<path fill="#fb8d58" d="M608.5 700.5 L610 700 L621 704 L620.5 705.2 L612 703Z"/>
<path fill="#fb8d58" d="M609 704.5 L610 704 L619.5 707 L619 708 L611 706.5Z"/>
<path fill="#fb8d58" d="M614 710 L615 709.2 L628 712 L627.5 713.2 L618 712Z"/>
<path fill="#fb8d58" d="M626 713.5 L627 712.8 L634 715.2 L633.5 716.2Z"/>
<path fill="#e24a33" d="M546.2 830 L555 826.2 L565 828.8 L577.5 828.8 L590 826.2 L601.2 821.2 L600 830 L596.2 840 L598.8 850 L593.8 857.5 L585 853.8 L575 847.5 L565 842.5 L555 838.8 L547.5 835Z"/>
<path fill="#e24a33" d="M482.1 758.4 L489.8 756.2 L493.1 763.9 L495.3 772.8 L493.1 788.2 L490.9 799.2 L486.5 803.6 L479.8 805.8 L473.2 809.2 L471 799.2 L471 788.2 L468.8 775 L467.7 765 L475.4 762.8Z"/>
<path fill="#e24a33" d="M487.6 715.4 L489.8 724.3 L490.9 735.3 L488.7 746.3 L484.3 751.8 L479.8 744.1 L475.4 735.3 L476.5 726.5 L482.1 722.1 L486.5 720.9Z"/>
<path fill="#e24a33" d="M582.4 875 L584 874.5 L586.7 877 L586 878.6 L584 877.5Z"/>
<path fill="#e24a33" d="M579.2 872.6 L581.4 872.8 L581.6 874.2 L579.6 874Z"/>
<path fill="#e24a33" d="M501.5 718 L506 717.5 L506 719.5 L502 720Z"/>
<path fill="#e24a33" d="M536 856.5 L538 857 L538 858.5 L536.5 858.5Z"/>
<path fill="#fbc88a" d="M497.8 423.9 L506 421.2 L509.5 426.7 L507.5 432 L500.6 430.8Z"/>
<path fill="#fbc88a" d="M513 419.8 L519.8 413 L525.3 413 L528 408.8 L532.8 409.5 L533.2 419.8 L529.4 425.3 L526.7 434.9 L523.9 439 L521.2 430.8 L515.7 428Z"/>
<path fill="#fbc88a" d="M513.6 437.6 L517 436.3 L522.5 439.7 L519.8 442.5 L515 441Z"/>
<path fill="#fbc88a" d="M562.5 427.5 L565.5 427 L568 430 L566 432 L563 430.5Z"/>
<path fill="#fde4c8" d="M587.5 375 L589.5 376 L586.5 390 L584.5 399 L583.5 397 L585.5 386Z"/>
<path fill="#fde4c8" d="M605 362.5 L612.5 358.8 L610 370 L605 382.5 L602.5 377.5Z"/>
<path fill="#fde4c8" d="M607 303 L612 302 L613 306 L608 307Z"/>
<path fill="#fb8d58" d="M645.6 329.4 L650 325.9 L655.3 327.9 L654.4 332.9 L648.5 333.8Z"/>
<path fill="#fb8d58" d="M645.6 344.1 L650 338.2 L660.3 335.3 L661.8 339.7 L655.9 344.1 L651.5 347 L648.5 352.9 L647 348.5Z"/>
<path fill="#fbc88a" d="M924.4 836.5 L926.8 834.7 L929.7 832.4 L933.8 830.6 L935 828.2 L934.4 825.9 L938.5 824.7 L944.4 823.2 L949.1 820.6 L953.2 817.6 L957.4 813.5 L960.9 810.3 L958.5 814.7 L955 819.4 L952.6 822.9 L953.2 825.3 L956.2 827.4 L952.6 829.4 L949.7 831.8 L947.4 835.3 L943.2 838.8 L940.3 841.2 L939.1 843.8 L937.4 841.8 L933.8 842.9 L929.7 842.9 L926.8 840.6 L925 838.2Z"/>
<path fill="#fb8d58" d="M362.5 786.2 L371.2 781.2 L377.5 780 L380 786.2 L373.8 793.8 L367.5 790Z"/>
<path fill="#fb8d58" d="M388.8 778.8 L396.2 780 L395 782.5 L390 781Z"/>
<path fill="#fb8d58" d="M340 798.8 L345 796.2 L343.8 801.2Z"/>
<path fill="#fde4c8" d="M759.1 864.4 L762.7 861.7 L769.8 864.4 L780.5 862.6 L794.8 861.7 L805.5 862.6 L810.8 860.8 L810.8 864.4 L801.9 868 L791.2 869.7 L784.1 873.3 L777 870.6 L766.3 870.6 L759.1 868.8Z"/>
<path fill="#fde4c8" d="M837.5 826 L840.5 827 L838.5 835 L835.5 839 L834 837 L836 831Z"/>
<path fill="#fde4c8" d="M737.7 786.3 L746.6 789.4 L753.8 794.5 L758.7 801.5 L760.5 808 L758.5 806.5 L755.5 801 L750.2 796.5 L743.1 792.3 L736.5 789.5Z"/>
<path fill="#fde4c8" d="M787 770 L792 767.5 L798.5 769.5 L799 774 L793.5 776 L788.5 774.5Z"/>
<path fill="#fde4c8" d="M790 785.5 L793.5 785 L794.5 790 L793 794 L790.5 792.5Z"/>
<path fill="#fde4c8" d="M805 801.5 L812 801 L813 803.5 L806 805Z"/>
<path fill="#fde4c8" d="M769 757 L774.5 756 L775 760.5 L770 761Z"/>
<path fill="#fde4c8" d="M756.5 740.5 L760 740.5 L760.5 744 L757 744.5Z"/>
<path fill="#fde4c8" d="M674 776 L676.5 775.5 L680 781 L681 786 L679 786 L676 781Z"/>
<path fill="#fde4c8" d="M690 809 L696.5 808.5 L697 814 L692.5 815.5 L690 813Z"/>
<path fill="#fde4c8" d="M696.5 819 L700.5 818.5 L701 822.5 L697.5 823Z"/>
<path fill="#fde4c8" d="M693 799 L695.5 799 L695.5 804 L693 803.5Z"/>
<path fill="#fde4c8" d="M815 818 L820 817 L821 820 L816 821.5Z"/>
<path fill="#fde4c8" d="M825 844.5 L827 844.5 L827.5 852 L825.5 852Z"/>
<path fill="#fde4c8" d="M764 813.5 L767.5 814 L767 817 L764 816.5Z"/>
<path fill="#fde4c8" d="M773 816.5 L777 817 L776.5 820 L773 819.5Z"/>
<path fill="#fde4c8" d="M781 819 L785 820 L784.5 823 L781 822Z"/>
<path fill="#fde4c8" d="M769 826.5 L772 827 L772 830 L769 829.5Z"/>
<path fill="#fde4c8" d="M778 831 L782.5 832 L782 835 L778 834Z"/>
<path fill="#fde4c8" d="M790 826.5 L794 827 L794 830.5 L790.5 830Z"/>
<path fill="#fde4c8" d="M797.5 807 L800.5 808 L800 811 L797.5 810.5Z"/>
<path fill="#fde4c8" d="M769.5 757 L771.5 757.5 L771 760 L769.5 759.5Z"/>
<path fill="#fde4c8" d="M290.5 352 L296.3 349.8 L298.5 354.9 L301.4 360.7 L297.8 362.1 L294.9 357.8 L292.7 354.9Z"/>
<path fill="#fde4c8" d="M289.1 344.7 L291.3 339.7 L296.3 334.6 L302.1 331.4 L300.7 335.3 L296.3 339.7 L292 343.3Z"/>
<path fill="#fde4c8" d="M290.5 373.7 L294.9 375.2 L296.3 378.8 L292 381 L289.8 379.5Z"/>
<path fill="#fde4c8" d="M284.7 391.8 L289.1 392.5 L287.6 395.4 L285 394.5Z"/>
<path fill="#fde4c8" d="M338.5 323 L341.5 322.5 L342 327 L339 327.5Z"/>
<path fill="#fde4c8" d="M299.2 433.8 L303.6 430.2 L304.3 432.3 L300.7 436Z"/>
<path fill="#fde4c8" d="M773.5 743.5 L777 743.5 L777 746.5 L773.5 746.5Z"/>
<path fill="#fde4c8" d="M787 819 L790 819.5 L790 825 L787.5 825.5Z"/>
<path fill="#fde4c8" d="M743.5 848 L746 848 L746.5 852 L744 852Z"/>
<path fill="#fde4c8" d="M797 799.5 L803 800 L803 802 L797.5 801.5Z"/>
<path fill="#fde4c8" d="M766 781 L769.5 781.5 L769 785.5 L766 785Z"/>
<path fill="#fde4c8" d="M768.5 806 L771 806.5 L774 811 L772 811.5Z"/>
<path fill="#fde4c8" d="M543.5 442 L547 442.5 L548.6 447 L547 450 L544.5 447.5Z"/>
<path fill="#fde4c8" d="M282 346 L286 346.5 L285.5 348.5 L282 348Z"/>
<path fill="#fde4c8" d="M280.5 353 L282.5 353 L283 358.5 L281 358.5Z"/>
<path fill="#fde4c8" d="M292.5 386.5 L294.5 387.5 L291.5 394 L290 393.5Z"/>
<path fill="#fde4c8" d="M298 397.5 L300.5 398 L300 403 L298 402.5Z"/>
<path fill="#fde4c8" d="M343.5 319.5 L345.5 319.5 L346 322.5 L344 322.5Z"/>
<path fill="#fde4c8" d="M278.5 360.5 L280 360.5 L280 362.5 L278.5 362.5Z"/>
<path fill="#fde4c8" d="M619 300 L625 299 L627 303 L622 305Z"/>
<path fill="#fde4c8" d="M626 305 L633 305.5 L632 308.5 L627 308Z"/>
<path fill="#fde4c8" d="M613 303.5 L617 302.5 L618 306 L614 306.5Z"/>
</g>
<g fill="#fff" stroke="none">
<path d="M790.3 746.8 L795 740.5 L801.2 734.3 L805.9 728.8 L812.1 723.4 L819.9 721 L829.2 720.3 L833 719.8 L846.4 721.8 L837 726.5 L832.4 731.2 L823 735 L815.2 737.4 L807.4 739 L801.2 740.5 L793.4 745.2 L791.5 748.5Z"/>
<path d="M726.2 242.8 L733.4 245.7 L743.6 249.4 L752.2 253.7 L758 260.9 L757.3 269.6 L752.2 274 L747.9 278.3 L746.5 282.6 L742.8 282.6 L739.9 275.4 L733.4 268.2 L726.2 262.4 L719.7 257.3 L722.6 250.8Z"/>
<path d="M755.1 204.5 L765.3 205.9 L772.5 210.3 L775.4 217.5 L782.6 226.2 L789.9 232 L789.9 239.2 L787 245 L775.4 245.7 L773.2 241.4 L779.8 239.2 L776.9 233.4 L765.3 229.1 L759.5 220.4 L753 216.8 L759.5 216 L756.6 210.3Z"/>
<path d="M709.5 312 L713.5 311.5 L716 318 L717.5 327 L720 333 L722 339 L718.5 340 L714.5 335 L711.5 326 L708.5 318Z"/>
<path d="M528.8 352.5 L532.5 342.5 L540 332.5 L547.5 333.8 L547.5 342.5 L540 350 L533.8 352.5Z"/>
<path d="M551.2 365 L555 352 L558.8 342.5 L560 343.5 L557 354 L553.8 365Z"/>
<path d="M644 92 L647 84 L650.5 80 L651.5 83 L649 90 L646 95Z"/>
<path d="M826 511.5 L833 510 L839 509 L843 512 L849 516 L849.5 519.5 L845 519 L838 516 L830 514.5Z"/>
<path d="M644.5 417 L647.5 417.5 L648 424.5 L643 425.8Z"/>
<path d="M431.5 481 L434.5 480 L437.5 486 L437.5 490.5 L434 490 L433.5 485Z"/>
</g>
<g fill="none" stroke="#fff" stroke-width="1.3"><path d="M833 714.8L833 719.8"/><path d="M791 747.5L789.3 752"/></g>
<g fill="none" stroke="#fff" stroke-width="1.5" stroke-linecap="round" stroke-linejoin="round">
<path d="M841 567 L845 577 L853 579"/>
<path d="M845 577 L843 586 L850 588"/>
<path d="M317.6 642.4 L321 648 L325 654.6"/>
<path d="M307.8 600.7 L312.7 604.4"/>
<path d="M186 105.5 L190.5 110"/>
<path d="M191.5 102.5 L195 108"/>
<path d="M196.5 99.5 L199 106.5"/>
<path d="M202.5 104 L199.5 110.5"/>
<path d="M448 271 L455 272.5 L462.2 274.7"/>
<path d="M463 256.8 L474.5 255.8"/>
<path d="M443.2 291.8 L458.4 289.9 L469.7 288.9 L466.9 293.7"/>
<path d="M448.9 318.3 L456.5 309.7 L462.2 306.9"/>
<path d="M446 324 L452 320.5"/>
<path d="M447 300.5 L454 299"/>
<path d="M513.3 224.6 L505.7 235 L499 236.9"/>
<path d="M444.5 279 L452 281.5"/>
<path d="M452 346 L457 341"/>
<path d="M530.5 167.5 L538 165.5"/>
<path d="M524 179 L531 178"/>
<path d="M545 140.5 L551 141.5"/>
<path d="M574 92 L577 98"/>
<path d="M585 88 L588 94"/>
<path d="M595 74.5 L598 82"/>
<path d="M613.6 61 L615 68"/>
<path d="M626 59 L628 66"/>
<path d="M633.6 54.5 L636 61"/>
<path d="M643.7 54.5 L647 60"/>
<path d="M657 59 L651 59.5"/>
</g>
<g fill="#9c9c9c" stroke="#d4d4d4" stroke-width="1">
<circle cx="491.75" cy="618.25" r="3"/>
<circle cx="455.5" cy="696.25" r="3"/>
<circle cx="540" cy="691.25" r="3"/>
<circle cx="541.25" cy="738.75" r="3"/>
<circle cx="354" cy="716" r="3"/>
</g>
<defs><filter id="ls" x="-20%" y="-20%" width="140%" height="150%"><feGaussianBlur in="SourceAlpha" stdDeviation="0.6"/><feOffset dx="0.2" dy="0.4"/><feComponentTransfer><feFuncA type="linear" slope="0.45"/></feComponentTransfer><feMerge><feMergeNode/><feMergeNode in="SourceGraphic"/></feMerge></filter></defs>
<g filter="url(#ls)" font-family="Liberation Sans, sans-serif" font-weight="bold" text-anchor="middle" fill="#fff" stroke="#1a0a04" stroke-opacity="0.72" stroke-linejoin="round" style="paint-order:stroke">
<text x="228.7" y="155.3" font-size="19" stroke-width="2.12" textLength="35" lengthAdjust="spacingAndGlyphs">15.4</text>
<text x="553.75" y="268.2" font-size="27" stroke-width="2.8" textLength="30" lengthAdjust="spacingAndGlyphs">7.7</text>
<text x="672.5" y="247.7" font-size="27" stroke-width="2.8" textLength="31" lengthAdjust="spacingAndGlyphs">7.5</text>
<text x="492.5" y="313.3" font-size="26" stroke-width="2.71" textLength="45" lengthAdjust="spacingAndGlyphs">13.3</text>
<text x="684.5" y="335" font-size="19.5" stroke-width="2.16" textLength="35" lengthAdjust="spacingAndGlyphs">22.3</text>
<text x="696.2" y="376" font-size="19.5" stroke-width="2.16" textLength="35.5" lengthAdjust="spacingAndGlyphs">42.9</text>
<text x="681.4" y="415.5" font-size="19.5" stroke-width="2.16" textLength="35.5" lengthAdjust="spacingAndGlyphs">37.5</text>
<text x="489.5" y="415.7" font-size="16" stroke-width="2" textLength="26" lengthAdjust="spacingAndGlyphs">14.2</text>
<text x="255" y="455.8" font-size="19" stroke-width="2.12" textLength="34" lengthAdjust="spacingAndGlyphs">14.2</text>
<text x="334.5" y="490.7" font-size="30" stroke-width="2.9" textLength="33" lengthAdjust="spacingAndGlyphs">7.8</text>
<text x="428.5" y="510.4" font-size="14.5" stroke-width="2" textLength="19.5" lengthAdjust="spacingAndGlyphs">3.3</text>
<text x="417.8" y="536.5" font-size="15.5" stroke-width="2" textLength="25.5" lengthAdjust="spacingAndGlyphs">11.3</text>
<text x="462.8" y="558.8" font-size="15" stroke-width="2" textLength="20.5" lengthAdjust="spacingAndGlyphs">17.1</text>
<text x="500.3" y="533.7" font-size="30" stroke-width="2.9" textLength="35.5" lengthAdjust="spacingAndGlyphs">8.4</text>
<text x="631" y="506.4" font-size="30" stroke-width="2.9" textLength="48" lengthAdjust="spacingAndGlyphs">15.6</text>
<text x="577" y="562.5" font-size="21" stroke-width="2.29" textLength="34" lengthAdjust="spacingAndGlyphs">18.7</text>
<text x="642" y="579.6" font-size="18.5" stroke-width="2.07" textLength="31" lengthAdjust="spacingAndGlyphs">14.7</text>
<text x="572" y="615" font-size="21" stroke-width="2.29" textLength="40" lengthAdjust="spacingAndGlyphs">28.6</text>
<text x="642.5" y="620.4" font-size="22" stroke-width="2.37" textLength="36" lengthAdjust="spacingAndGlyphs">20.1</text>
<text x="469" y="628.8" font-size="17.5" stroke-width="2" textLength="31.5" lengthAdjust="spacingAndGlyphs">10.8</text>
<text x="572.8" y="646.7" font-size="15" stroke-width="2" textLength="23.5" lengthAdjust="spacingAndGlyphs">15.1</text>
<text x="609" y="655.8" font-size="19" stroke-width="2.12" textLength="31.5" lengthAdjust="spacingAndGlyphs">21.8</text>
<text x="380" y="636.1" font-size="31" stroke-width="2.9" textLength="50" lengthAdjust="spacingAndGlyphs">33.2</text>
<text x="738" y="634.2" font-size="27" stroke-width="2.8" textLength="40" lengthAdjust="spacingAndGlyphs">31.1</text>
<text x="758.5" y="705" font-size="21" stroke-width="2.29" textLength="38" lengthAdjust="spacingAndGlyphs">28.5</text>
<text x="542" y="730" font-size="28" stroke-width="2.88" textLength="43.5" lengthAdjust="spacingAndGlyphs">26.6</text>
<text x="255" y="776.1" font-size="31" stroke-width="2.9" textLength="47" lengthAdjust="spacingAndGlyphs">19.3</text>
<text x="173.75" y="758.7" font-size="20" stroke-width="2.2" textLength="32" lengthAdjust="spacingAndGlyphs">19.3</text>
<text x="710.5" y="786.3" font-size="19" stroke-width="2.12" textLength="25" lengthAdjust="spacingAndGlyphs">8.8</text>
<text x="911.2" y="856" font-size="15" stroke-width="2" textLength="25.5" lengthAdjust="spacingAndGlyphs">13.0</text>
<text x="601.4" y="892" font-size="15" stroke-width="2" textLength="26.5" lengthAdjust="spacingAndGlyphs">33.4</text>
</g>
<g font-family="Liberation Sans, sans-serif" font-weight="bold" text-anchor="middle" fill="#fff" stroke="#fff" stroke-width="0.5" stroke-linejoin="round">
<text x="228.7" y="155.3" font-size="19" textLength="35" lengthAdjust="spacingAndGlyphs">15.4</text>
<text x="553.75" y="268.2" font-size="27" textLength="30" lengthAdjust="spacingAndGlyphs">7.7</text>
<text x="672.5" y="247.7" font-size="27" textLength="31" lengthAdjust="spacingAndGlyphs">7.5</text>
<text x="492.5" y="313.3" font-size="26" textLength="45" lengthAdjust="spacingAndGlyphs">13.3</text>
<text x="684.5" y="335" font-size="19.5" textLength="35" lengthAdjust="spacingAndGlyphs">22.3</text>
<text x="696.2" y="376" font-size="19.5" textLength="35.5" lengthAdjust="spacingAndGlyphs">42.9</text>
<text x="681.4" y="415.5" font-size="19.5" textLength="35.5" lengthAdjust="spacingAndGlyphs">37.5</text>
<text x="489.5" y="415.7" font-size="16" textLength="26" lengthAdjust="spacingAndGlyphs">14.2</text>
<text x="255" y="455.8" font-size="19" textLength="34" lengthAdjust="spacingAndGlyphs">14.2</text>
<text x="334.5" y="490.7" font-size="30" textLength="33" lengthAdjust="spacingAndGlyphs">7.8</text>
<text x="428.5" y="510.4" font-size="14.5" textLength="19.5" lengthAdjust="spacingAndGlyphs">3.3</text>
<text x="417.8" y="536.5" font-size="15.5" textLength="25.5" lengthAdjust="spacingAndGlyphs">11.3</text>
<text x="462.8" y="558.8" font-size="15" textLength="20.5" lengthAdjust="spacingAndGlyphs">17.1</text>
<text x="500.3" y="533.7" font-size="30" textLength="35.5" lengthAdjust="spacingAndGlyphs">8.4</text>
<text x="631" y="506.4" font-size="30" textLength="48" lengthAdjust="spacingAndGlyphs">15.6</text>
<text x="577" y="562.5" font-size="21" textLength="34" lengthAdjust="spacingAndGlyphs">18.7</text>
<text x="642" y="579.6" font-size="18.5" textLength="31" lengthAdjust="spacingAndGlyphs">14.7</text>
<text x="572" y="615" font-size="21" textLength="40" lengthAdjust="spacingAndGlyphs">28.6</text>
<text x="642.5" y="620.4" font-size="22" textLength="36" lengthAdjust="spacingAndGlyphs">20.1</text>
<text x="469" y="628.8" font-size="17.5" textLength="31.5" lengthAdjust="spacingAndGlyphs">10.8</text>
<text x="572.8" y="646.7" font-size="15" textLength="23.5" lengthAdjust="spacingAndGlyphs">15.1</text>
<text x="609" y="655.8" font-size="19" textLength="31.5" lengthAdjust="spacingAndGlyphs">21.8</text>
<text x="380" y="636.1" font-size="31" textLength="50" lengthAdjust="spacingAndGlyphs">33.2</text>
<text x="738" y="634.2" font-size="27" textLength="40" lengthAdjust="spacingAndGlyphs">31.1</text>
<text x="758.5" y="705" font-size="21" textLength="38" lengthAdjust="spacingAndGlyphs">28.5</text>
<text x="542" y="730" font-size="28" textLength="43.5" lengthAdjust="spacingAndGlyphs">26.6</text>
<text x="255" y="776.1" font-size="31" textLength="47" lengthAdjust="spacingAndGlyphs">19.3</text>
<text x="173.75" y="758.7" font-size="20" textLength="32" lengthAdjust="spacingAndGlyphs">19.3</text>
<text x="710.5" y="786.3" font-size="19" textLength="25" lengthAdjust="spacingAndGlyphs">8.8</text>
<text x="911.2" y="856" font-size="15" textLength="25.5" lengthAdjust="spacingAndGlyphs">13.0</text>
<text x="601.4" y="892" font-size="15" textLength="26.5" lengthAdjust="spacingAndGlyphs">33.4</text>
</g>
</svg>
<div class="stripl"></div><div class="strip"></div><div class="stripk"></div>
<div class="title"><span id="tt">Fatal accidents at work</span></div>

<div class="abs" id="lh1" style="-webkit-text-stroke:0.35px #111;left:-1.6px;top:166px;width:200px;text-align:center;font-weight:bold;font-size:19.5px;line-height:24px;white-space:normal;transform:scaleX(1.08);transform-origin:center;">No. of fatal<br>accidents at work<br><span style="white-space:nowrap;margin-left:-5px">per 1 million workers</span></div>
<div class="sw" style="top:253.9px;background:#fde4c8"></div>
<div class="sw" style="top:302.6px;background:#fbc88a"></div>
<div class="sw" style="top:350.9px;background:#fb8d58"></div>
<div class="sw" style="top:399.2px;background:#e24a33"></div>
<div class="sw" style="top:447.2px;background:#b30000"></div>
<div class="lt" style="left:105.8px;top:260.3px"><span style="letter-spacing:5px">&lt;</span>10.0</div>
<div class="lt" style="left:84.8px;top:308.5px">10.0 - 17.4</div>
<div class="lt" style="left:84.8px;top:356.7px">17.5 - 24.9</div>
<div class="lt" style="left:83px;top:404.6px">25.0 - 35.0</div>
<div class="lt" style="left:105.8px;top:452.8px"><span style="letter-spacing:5px">&gt;</span>35.0</div>

<div class="abs" style="left:10px;top:531px;-webkit-text-stroke:0.35px #111;font-weight:bold;font-size:20px;line-height:24px;transform:scaleX(1.07);transform-origin:left">Highest</div>
<div class="flag" style="top:562px"><i style="inset:0;background:#c5424f"></i><i style="left:0;right:0;top:13.2px;height:5.6px;background:#fff"></i></div>
<div class="cn" style="top:563px">Latvia</div><div class="cv" style="top:580.5px">42.9</div>
<div class="flag" style="top:600px"><i style="inset:0;background:#f7dc5a"></i><i style="left:0;right:0;top:10.7px;height:10.7px;background:#5d9a1f"></i><i style="left:0;right:0;top:21.4px;bottom:0;background:#f2555e"></i></div>
<div class="cn" style="top:600.5px">Lithuania</div><div class="cv" style="top:618px">37.5</div>
<div class="flag" style="top:637.5px"><i style="inset:0;background:#f4f4f4"></i><i style="left:24px;right:0;top:0;bottom:0;background:#f5515f"></i><i style="left:4px;top:4px;width:6px;height:6px;border-radius:3px;background:#d9a7a7"></i></div>
<div class="cn" style="top:638.5px">Malta</div><div class="cv" style="top:656px">33.4</div>

<div class="abs" style="left:10px;top:689.5px;-webkit-text-stroke:0.35px #111;font-weight:bold;font-size:20px;line-height:24px;transform:scaleX(1.045);transform-origin:left">Lowest</div>
<div class="flag" style="top:721px"><i style="inset:0;background:#f4f4f4"></i><i style="left:0;right:0;top:0;height:10.7px;background:#f2555e"></i><i style="left:0;right:0;top:21.4px;bottom:0;background:#3b4ea8"></i></div>
<div class="cn" style="top:722px">Netherlands</div><div class="cv" style="top:739.5px">3.3</div>
<div class="flag" style="top:758.5px"><i style="inset:0;background:#f3f3f3"></i><i style="left:0;right:0;top:12.9px;height:5.4px;background:#2c3f94"></i><i style="left:15px;width:5.3px;top:0;bottom:0;background:#2c3f94"></i></div>
<div class="cn" style="top:759.5px">Finland</div><div class="cv" style="top:777px">7.5</div>
<div class="flag" style="top:795.5px"><i style="inset:0;background:#3f7fd0"></i><i style="left:0;right:0;top:12.9px;height:5.4px;background:#f7d94c"></i><i style="left:15px;width:5.3px;top:0;bottom:0;background:#f7d94c"></i></div>
<div class="cn" style="top:796.5px">Sweden</div><div class="cv" style="top:814px">7.7</div>

<div class="abs" style="left:10.5px;top:872px;font-style:italic;font-size:13px;line-height:16px;letter-spacing:0">Source: Eurostat, 2021</div>

<!-- top right -->
<svg class="abs" style="left:796px;top:6px" width="34" height="92" viewBox="796 6 34 92">
<defs><filter id="sh" x="-30%" y="-30%" width="170%" height="170%"><feGaussianBlur in="SourceAlpha" stdDeviation="1.2"/><feOffset dx="1.5" dy="2"/><feComponentTransfer><feFuncA type="linear" slope="0.55"/></feComponentTransfer><feMerge><feMergeNode/><feMergeNode in="SourceGraphic"/></feMerge></filter></defs>
<g filter="url(#sh)">
<circle cx="811.4" cy="22.7" r="11.6" fill="#21b094"/>
<path fill="#fff" d="M806 14.5c2.2-1.6 4.6-2 6-1.6l-1.4 2.6-2.3 1.2 1 2.2-2.6 2.4-1.2 3.4 2.8 1.6 0.6 3.4 2.6 2.2-0.8 1.8c-4.2-1-7.6-4.6-8-9.2 0-3.800 1.400-7 3.300-10z M815.500 13.800l3.600 2.200 2.400 3.600 0.800 3.800-2.400-1.600-2.200 0.600-2-1.800-2.400 0.200 0.600-2.600 2.600-1.400z M814.500 24.500l3 0.800 2.600 2.200-1.400 3.400-3.200 2-0.600-3.200-1.800-2z"/>
</g>
<g filter="url(#sh)">
<rect x="800.600" y="42.600" width="18.800" height="17.800" rx="4.200" fill="#fff" stroke="#0a0a0a" stroke-width="2.200"/>
<circle cx="810" cy="51.500" r="4.300" fill="#fff" stroke="#0a0a0a" stroke-width="2"/>
<circle cx="815.400" cy="46.400" r="1.100" fill="#0a0a0a"/>
</g>
<g filter="url(#sh)">
<circle cx="809.800" cy="81.300" r="10.200" fill="#161616"/>
<path fill="#fff" d="M816.200 77.300c-.5.200-1 .4-1.500.4.500-.3 1-.8 1.200-1.500-.500.300-1.100.5-1.700.700-.500-.500-1.200-.800-1.900-.800-1.500 0-2.700 1.200-2.700 2.700 0 .200 0 .400.100.600-2.200-.100-4.200-1.200-5.500-2.800-.200.400-.400.900-.400 1.400 0 .900.500 1.800 1.200 2.200-.400 0-.800-.100-1.200-.300 0 1.300.900 2.400 2.100 2.600-.400.100-.800.100-1.200 0 .300 1.100 1.300 1.800 2.500 1.900-1.100.900-2.500 1.300-3.900 1.100 1.200.800 2.600 1.200 4.100 1.200 4.900 0 7.600-4.100 7.600-7.600v-.300c.500-.400 1-.900 1.300-1.500z"/>
</g>
</svg>
<div class="abs" id="t1" style="-webkit-text-stroke:0.6px #111;transform:scaleX(1.149);left:835px;top:9px;font-size:21px;line-height:26px;transform-origin:left center;text-shadow:0 0 2px rgba(255,255,255,.9),0 0 3px rgba(255,255,255,.5)">Landgeist.com</div>
<div class="abs" id="t2" style="-webkit-text-stroke:0.6px #111;transform:scaleX(1.18);left:835px;top:38.5px;font-size:17.5px;line-height:22px;transform-origin:left center;text-shadow:0 0 2px rgba(255,255,255,.9),0 0 3px rgba(255,255,255,.5)">@Land_geist</div>
<div class="abs" id="t3" style="-webkit-text-stroke:0.6px #111;transform:scaleX(1.21);left:835px;top:69.5px;font-size:17.5px;line-height:22px;transform-origin:left center;text-shadow:0 0 2px rgba(255,255,255,.9),0 0 3px rgba(255,255,255,.5)">@Landgeist</div>
<div class="abs" id="note" style="-webkit-text-stroke:0.3px #111;transform:scaleX(1.064);left:798.5px;top:137px;font-style:italic;font-size:14.5px;line-height:16.7px;white-space:pre;transform-origin:left top;letter-spacing:-0.2px;text-shadow:0 0 1.5px rgba(255,255,255,.6)">Note:
Data for Greece, Iceland and
Switzerland is from 2020.
Data for the UK is from 2018.</div>
</body></html>
